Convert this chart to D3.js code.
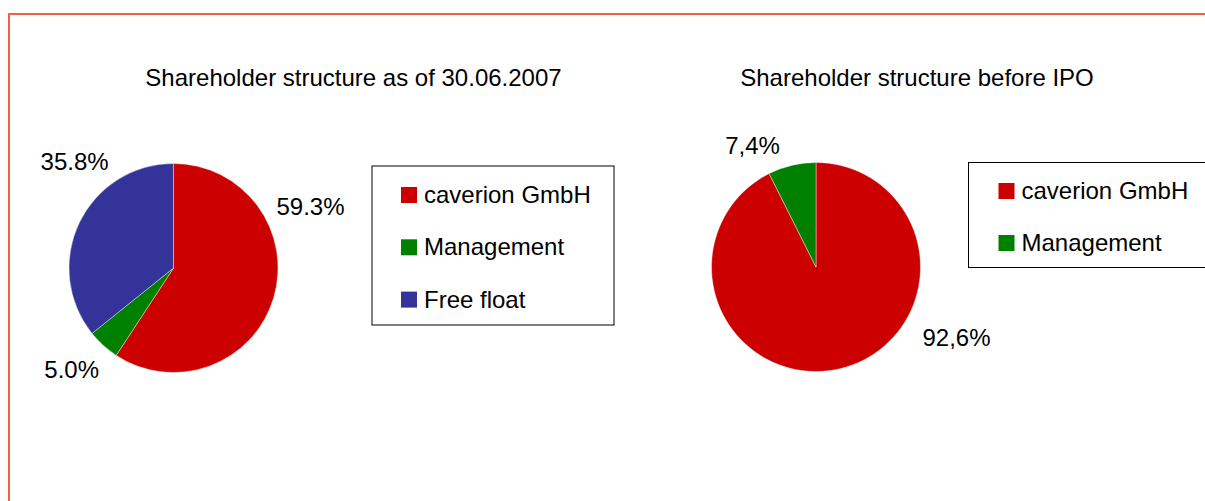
<!DOCTYPE html>
<html>
<head>
<meta charset="utf-8">
<script src="https://cdn.jsdelivr.net/npm/d3@7"></script>
<style>
  body { margin: 0; background: #fff; }
  svg text { font-family: "Liberation Sans", Arial, sans-serif; fill: #000; }
</style>
</head>
<body>
<div id="chart"></div>
<script>
var svgWidth = 1205;
var svgHeight = 501;

// data
var categories = ["caverion GmbH", "Management", "Free float"];
var colors = ["#cc0000", "#008000", "#333399"];

var title1 = "Shareholder structure as of 30.06.2007";
var values1 = [59.3, 5.0, 35.8];
var labels1 = ["59.3%", "5.0%", "35.8%"];

var title2 = "Shareholder structure before IPO";
var values2 = [92.6, 7.4];
var labels2 = ["92,6%", "7,4%"];

var svg = d3.select("#chart")
  .append("svg")
  .attr("width", svgWidth)
  .attr("height", svgHeight);

// orange frame
svg.append("path")
  .attr("d", "M9," + svgHeight + " V14 H" + svgWidth)
  .attr("fill", "none")
  .attr("stroke", "#ee6441")
  .attr("stroke-width", 2);

var radius = 104.5;
var pie = d3.pie().sort(null).value(d => d);
var arc = d3.arc().innerRadius(0).outerRadius(radius);

// chart layouts: centre, title, label placement (angle in degrees, distance), legend box
var charts = [
  {
    cx: 173.5, cy: 268, title: title1, titleX: 353.5, values: values1, labels: labels1,
    labelPos: [[66, 150], [225, 144], [317, 145]],
    legend: { x: 372, y: 166, w: 242, h: 159, n: 3, swatchX: 29, firstBase: 37, step: 52.3 }
  },
  {
    cx: 816, cy: 267, title: title2, titleX: 917, values: values2, labels: labels2,
    labelPos: [[116.5, 157], [332.5, 137.5]],
    legend: { x: 968.5, y: 162.5, w: 250, h: 105, n: 2, swatchX: 30, firstBase: 36.5, step: 52 }
  }
];

charts.forEach(function(c) {
  svg.append("text")
    .attr("x", c.titleX)
    .attr("y", 86)
    .attr("text-anchor", "middle")
    .attr("font-size", "24px")
    .text(c.title);

  var g = svg.append("g")
    .attr("transform", `translate(${c.cx}, ${c.cy})`);

  var arcs = pie(c.values);

  g.selectAll("path")
    .data(arcs)
    .enter()
    .append("path")
    .attr("d", arc)
    .attr("fill", (d, i) => colors[i])
    .attr("stroke", "#fff")
    .attr("stroke-width", 0.4);

  g.selectAll("text.lbl")
    .data(arcs)
    .enter()
    .append("text")
    .attr("class", "lbl")
    .attr("font-size", "24px")
    .attr("text-anchor", "middle")
    .attr("dominant-baseline", "central")
    .attr("transform", function(d, i) {
      var p = d3.pointRadial(c.labelPos[i][0] * Math.PI / 180, c.labelPos[i][1]);
      return `translate(${p[0]}, ${p[1]})`;
    })
    .text((d, i) => c.labels[i]);

  // legend
  var L = c.legend;
  var lg = svg.append("g")
    .attr("transform", `translate(${L.x}, ${L.y})`);

  lg.append("rect")
    .attr("x", 0).attr("y", 0)
    .attr("width", L.w).attr("height", L.h)
    .attr("fill", "#fff")
    .attr("stroke", "#000")
    .attr("stroke-width", 1);

  var items = lg.selectAll("g.item")
    .data(categories.slice(0, L.n))
    .enter()
    .append("g")
    .attr("class", "item")
    .attr("transform", (d, i) => `translate(0, ${L.firstBase + i * L.step})`);

  items.append("rect")
    .attr("x", L.swatchX)
    .attr("y", -16)
    .attr("width", 16)
    .attr("height", 16)
    .attr("fill", (d, i) => colors[i]);

  items.append("text")
    .attr("x", L.swatchX + 23)
    .attr("y", 0)
    .attr("font-size", "24px")
    .text(d => d);
});
</script>
</body>
</html>
